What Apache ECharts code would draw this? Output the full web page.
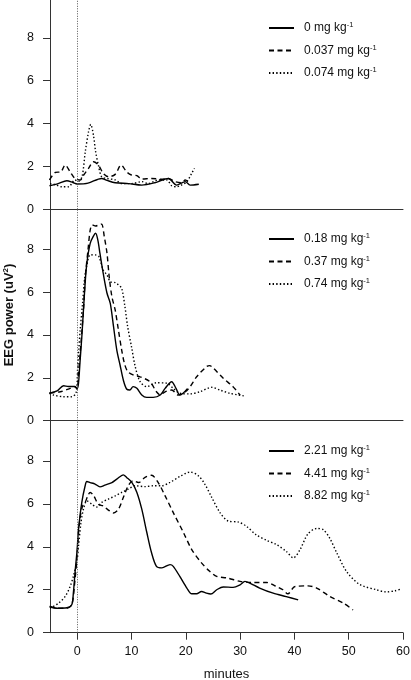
<!DOCTYPE html>
<html>
<head>
<meta charset="utf-8">
<script src="https://cdn.jsdelivr.net/npm/echarts@6/dist/echarts.min.js"></script>
<style>
html,body{margin:0;padding:0;background:#fff;}
#c{width:411px;height:680px;}
</style>
</head>
<body>
<div id="c"></div>
<script>
// ---- Data (minutes, EEG power) ----
const xTicks = [0, 10, 20, 30, 40, 50, 60];
const yTicks = [0, 2, 4, 6, 8];
const xLabel = 'minutes';
const yLabel = 'EEG power (uV2)';

const panelTopNames = ['0 mg kg-1', '0.037 mg kg-1', '0.074 mg kg-1'];
const panelMidNames = ['0.18 mg kg-1', '0.37 mg kg-1', '0.74 mg kg-1'];
const panelBotNames = ['2.21 mg kg-1', '4.41 mg kg-1', '8.82 mg kg-1'];

const dose0 = [[-5.1,1.1],[-3.5,1.2],[-1.9,1.33],[-0.8,1.25],[0,1.18],[2,1.22],[4.5,1.44],[5.5,1.35],[7,1.24],[9.5,1.2],[11.9,1.13],[14.3,1.24],[16.8,1.44],[18.3,1.13],[19.9,1.29],[20.8,1.13],[22.4,1.17]];
const dose0037 = [[-5.1,1.37],[-4,1.72],[-3,1.75],[-2.2,2.07],[-1.3,1.75],[-0.4,1.44],[0.6,1.37],[1.2,1.6],[2.1,1.91],[3.0,2.22],[3.9,2.07],[4.8,1.68],[5.8,1.52],[7,1.63],[8.1,2.07],[9.1,1.75],[10,1.6],[11,1.57],[11.9,1.41],[13.7,1.44],[15.6,1.4],[16.8,1.44],[18,1.29],[19.2,1.24],[19.9,1.37],[20.8,1.2]];
const dose0074 = [[-5,1.2],[-4,1.15],[-2.8,1.05],[-1.6,1.05],[-0.4,1.37],[0.2,1.3],[0.9,1.52],[1.5,2.69],[2.1,3.62],[2.5,3.96],[3.0,3.46],[3.4,2.69],[3.9,2.07],[4.5,1.52],[5.5,1.44],[7,1.37],[8.2,1.2],[10,1.2],[11.9,1.29],[13.1,1.2],[14.9,1.37],[16.5,1.37],[17.4,1.1],[18.3,1.05],[19.2,1.13],[20.2,1.29],[21.1,1.68],[21.6,1.91]];

const dose018 = [[-5.1,1.28],[-3.7,1.39],[-2.5,1.63],[-1.6,1.6],[-0.55,1.6],[0,1.5],[0.25,1.75],[0.55,2.83],[0.86,3.92],[1.16,5.17],[1.47,6.41],[1.78,7.35],[2.4,8.28],[3.0,8.62],[3.4,8.75],[3.8,8.44],[4.2,7.81],[4.8,6.88],[5.5,5.95],[6.1,5.48],[6.7,4.39],[7.3,3.3],[7.9,2.6],[8.5,1.9],[9.1,1.48],[9.7,1.43],[10.3,1.59],[11,1.51],[11.9,1.2],[12.8,1.09],[14,1.09],[15.3,1.2],[16.2,1.51],[17.4,1.82],[18.2,1.51],[18.9,1.2],[19.5,1.28],[20.3,1.5]];
const dose037 = [[-5.1,1.3],[-3.1,1.35],[-1.3,1.51],[-0.4,1.6],[0,1.48],[0.2,2.05],[0.7,3.6],[1.2,5.32],[1.5,6.72],[2.0,7.97],[2.4,8.9],[2.8,9.14],[3.4,9.09],[4.0,9.14],[4.5,9.18],[5.0,8.59],[5.5,7.81],[5.9,6.72],[6.4,5.79],[7.0,5.17],[7.6,4.23],[8.2,3.3],[8.7,2.68],[9.3,2.3],[10.4,2.13],[11.6,2.05],[13.4,1.82],[14.6,1.35],[15.3,1.2],[16.2,1.35],[17.4,1.43],[18.6,1.2],[19.9,1.35],[20.8,1.59],[22,2.05],[23.8,2.52],[24.4,2.57],[25.1,2.45],[26.9,1.98],[28.7,1.59],[30,1.2]];
const dose074 = [[-5.1,1.28],[-4.4,1.2],[-2.5,1.12],[-1,1.12],[-0.2,1.3],[0.1,2.5],[0.3,3.3],[0.55,4.23],[1.0,5.48],[1.35,6.57],[1.8,7.27],[2.4,7.74],[3.3,7.74],[4.0,7.66],[4.8,7.04],[5.5,6.8],[6.1,6.49],[7.0,6.45],[7.6,6.34],[8.2,6.18],[8.8,5.32],[9.3,4.39],[10,3.46],[10.7,2.52],[11.6,1.82],[12.8,1.59],[14.6,1.77],[16.5,1.75],[17.7,1.51],[18.9,1.28],[20.8,1.25],[22.6,1.35],[24.8,1.56],[26.3,1.43],[28.1,1.28],[30.9,1.15]];

const dose221 = [[-5.1,1.22],[-3.7,1.14],[-1.9,1.16],[-1.0,1.3],[-0.7,1.84],[-0.4,2.78],[0,3.87],[0.25,4.81],[0.85,6.06],[1.47,6.84],[1.78,7.04],[2.4,6.99],[3.3,6.92],[4.2,6.79],[5.1,6.87],[6.4,6.99],[7.3,7.15],[8.5,7.35],[9.1,7.23],[10.1,6.99],[11.0,6.53],[11.9,5.75],[12.8,4.7],[13.7,3.72],[14.6,3.09],[15.6,3.02],[17.1,3.17],[17.7,3.09],[18.9,2.62],[20.2,2.08],[21.1,1.81],[22,1.81],[22.9,1.92],[23.8,1.84],[24.6,1.8],[25.7,2.0],[26.9,2.13],[28.7,2.11],[30,2.23],[30.9,2.39],[31.8,2.31],[33.6,2.08],[36.1,1.84],[38.5,1.68],[40.7,1.53]];
const dose441 = [[-5,1.22],[-3.9,1.14],[-2,1.14],[-1.0,1.3],[-0.5,2.2],[0,3.6],[0.25,4.65],[0.55,5.36],[1.0,5.9],[1.47,6.06],[1.96,6.37],[2.4,6.53],[3.0,6.4],[3.9,5.98],[4.8,5.9],[5.75,5.71],[6.7,5.57],[7.6,5.75],[8.5,6.29],[9.4,6.84],[10.3,7.07],[11.3,6.99],[12.5,7.23],[13.7,7.33],[14.9,7.0],[16.2,6.37],[17.7,5.59],[19.6,4.65],[21.1,3.87],[22.9,3.25],[24.4,2.86],[25.7,2.62],[27.6,2.55],[30,2.39],[32.4,2.34],[34.9,2.34],[36.7,2.15],[37.9,2.0],[38.8,1.81],[40.1,2.15],[42.5,2.18],[44.1,2.08],[46.5,1.69],[49,1.38],[50.8,1.06]];
const dose882 = [[-5,1.14],[-3.4,1.38],[-2.2,1.69],[-1.3,2.15],[-0.7,2.62],[0,3.4],[0.25,4.03],[0.7,5.12],[1.16,5.75],[1.8,6.14],[2.7,5.98],[3.6,5.85],[4.5,6.06],[5.75,6.22],[7.0,6.37],[8.2,6.53],[9.4,6.68],[10.7,6.84],[12.5,6.8],[14.0,6.84],[15.6,6.84],[17.1,7.0],[18.9,7.27],[20.8,7.48],[22.3,7.31],[23.5,6.92],[24.8,6.29],[26.3,5.59],[27.8,5.2],[29.7,5.15],[31.2,4.95],[33,4.55],[34.9,4.3],[36.7,4.1],[38.5,3.79],[39.8,3.48],[41,3.85],[42.5,4.6],[44.1,4.85],[45.3,4.8],[46.5,4.4],[47.8,3.72],[49.6,2.85],[52,2.25],[55.1,2.0],[56.9,1.9],[58.5,1.95],[59.8,2.05]];

// ---- Chart ----
const YMAX = 9.87;
const grids = [
  {left: 50, right: 8, top: -2.2, height: 211.5, outerBoundsMode: 'none', containLabel: false},
  {left: 50, right: 8, top: 209.3, height: 211.4, outerBoundsMode: 'none', containLabel: false},
  {left: 50, right: 8, top: 420.7, height: 212, outerBoundsMode: 'none', containLabel: false}
];
const axisColor = '#333';
const fontFam = '"Liberation Sans", Arial, Helvetica, sans-serif';

function xAxisFor(i) {
  const bottom = i === 2;
  return {
    type: 'value', gridIndex: i, min: -5, max: 60,
    axisLine: {show: true, lineStyle: {color: axisColor, width: 1}},
    axisTick: {show: bottom, length: 7, inside: false, customValues: xTicks, lineStyle: {color: axisColor}},
    axisLabel: {show: bottom, customValues: xTicks, margin: 12, fontSize: 12.5, color: '#111', fontFamily: fontFam},
    splitLine: {show: false},
    name: bottom ? xLabel : '',
    nameLocation: 'middle', nameGap: 35,
    nameTextStyle: {fontSize: 13, color: '#111', fontFamily: fontFam}
  };
}
function yAxisFor(i) {
  const ax = {
    type: 'value', gridIndex: i, min: 0, max: YMAX, interval: 2,
    axisLine: {show: true, onZero: false, lineStyle: {color: axisColor, width: 1}},
    axisTick: {show: true, length: 7, lineStyle: {color: axisColor}},
    axisLabel: {margin: 16, align: 'right', fontSize: 12.5, color: '#111', fontFamily: fontFam, showMaxLabel: false,
      formatter: v => (v % 2 === 0 ? String(v) : '')},
    splitLine: {show: false}
  };
  if (i === 1) {
    ax.name = '{a|EEG power (uV}{b|2}{a|)}';
    ax.nameLocation = 'middle';
    ax.nameGap = 28;
    ax.nameRotate = 90;
    ax.nameTextStyle = {
      rich: {
        a: {fontSize: 13, fontWeight: 'bold', color: '#111', fontFamily: fontFam, lineHeight: 16},
        b: {fontSize: 8, fontWeight: 'bold', color: '#111', fontFamily: fontFam, verticalAlign: 'top', lineHeight: 16}
      }
    };
  }
  return ax;
}

const styles = [
  {type: 'solid', width: 1.4},
  {type: [5, 3.5], width: 1.4},
  {type: [1.4, 2.2], width: 1.4}
];

function mkSeries(name, data, idx, styleIdx, withMark) {
  const s = {
    name: name, type: 'line', data: data,
    xAxisIndex: idx, yAxisIndex: idx,
    showSymbol: false, symbol: 'none', smooth: 0.3,
    lineStyle: Object.assign({color: '#000'}, styles[styleIdx]),
    itemStyle: {color: '#000'},
    emphasis: {disabled: true},
    z: 3
  };
  if (withMark) {
    s.markLine = {
      silent: true, symbol: ['none', 'none'], animation: false,
      label: {show: false},
      lineStyle: {type: [1, 1.5], color: '#555', width: 1},
      data: [{xAxis: 0}]
    };
  }
  return s;
}

const panels = [
  [dose0, dose0037, dose0074],
  [dose018, dose037, dose074],
  [dose221, dose441, dose882]
];
const panelNames = [panelTopNames, panelMidNames, panelBotNames];

const series = [];
panels.forEach((arrs, p) => {
  arrs.forEach((d, k) => series.push(mkSeries(panelNames[p][k], d, p, k, k === 0)));
});

function legendFor(names, top) {
  return {
    data: names, orient: 'vertical', left: 268, top: top, padding: 0,
    itemWidth: 25, itemHeight: 14, itemGap: 9.5,
    selectedMode: false,
    itemStyle: {opacity: 0},
    formatter: n => '{t|' + n.replace(/-1$/, '') + '}{s|-1}',
    textStyle: {
      rich: {
        t: {fontSize: 12, color: '#111', fontFamily: fontFam, lineHeight: 14, padding: [0, 0, 0, 5]},
        s: {fontSize: 7.5, color: '#111', fontFamily: fontFam, verticalAlign: 'top', lineHeight: 14}
      }
    }
  };
}

const chart = echarts.init(document.getElementById('c'), null, {renderer: 'canvas'});
chart.setOption({
  animation: false,
  backgroundColor: '#fff',
  grid: grids,
  xAxis: [0, 1, 2].map(xAxisFor),
  yAxis: [0, 1, 2].map(yAxisFor),
  legend: [legendFor(panelTopNames, 21), legendFor(panelMidNames, 232), legendFor(panelBotNames, 444)],
  series: series
});
</script>
</body>
</html>
